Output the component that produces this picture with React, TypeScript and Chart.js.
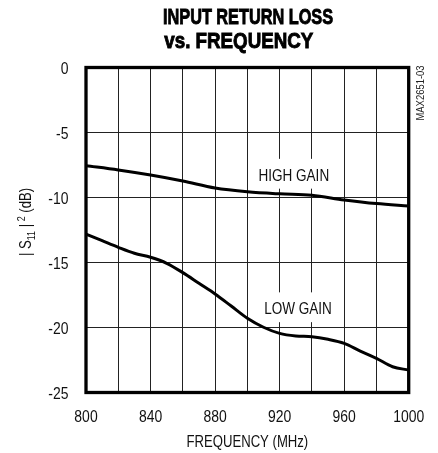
import React, { useEffect, useRef } from "react";
import { Chart, registerables } from "chart.js";

Chart.register(...registerables);

const FONT = "'Liberation Sans', Arial, sans-serif";
const NARROW = 0.82;

const titleLines = ["INPUT RETURN LOSS", "vs. FREQUENCY"];
const xAxisTitle = "FREQUENCY (MHz)";
const figureId = "MAX2651-03";

const xTickLabels = [800, 840, 880, 920, 960, 1000];
const yTickLabels = [0, -5, -10, -15, -20, -25];

const highGainFreq = [800, 820, 840, 860, 880, 900, 920, 940, 960, 980, 1000];
const highGainDb = [-7.55, -7.88, -8.27, -8.73, -9.27, -9.56, -9.72, -9.83, -10.19, -10.47, -10.65];

const lowGainFreq = [800, 810, 820, 830, 840, 850, 860, 870, 880, 890, 900, 910, 920, 930, 940, 950, 960, 970, 980, 990, 1000];
const lowGainDb = [-12.81, -13.32, -13.83, -14.29, -14.6, -15.06, -15.78, -16.6, -17.42, -18.35, -19.29, -19.98, -20.45, -20.65, -20.71, -20.91, -21.22, -21.81, -22.37, -23.02, -23.27];

const annotationTexts = ["HIGH GAIN", "LOW GAIN"];
const annotationFreq = [928.8, 931.4];
const annotationDb = [-8.25, -18.52];

function narrowWidth(ctx: CanvasRenderingContext2D, text: string, size: number, weight = "") {
  ctx.save();
  ctx.font = `${weight} ${size}px ${FONT}`;
  const w = ctx.measureText(text).width * NARROW;
  ctx.restore();
  return w;
}

function narrowText(
  ctx: CanvasRenderingContext2D,
  text: string,
  x: number,
  y: number,
  size: number,
  align: CanvasTextAlign,
  rotate = 0,
  color = "#111"
) {
  ctx.save();
  ctx.font = `${size}px ${FONT}`;
  ctx.fillStyle = color;
  ctx.translate(x, y);
  if (rotate) ctx.rotate(rotate);
  ctx.scale(NARROW, 1);
  ctx.textAlign = align;
  ctx.textBaseline = "alphabetic";
  ctx.fillText(text, 0, 0);
  ctx.restore();
}

export default function App() {
  const ref = useRef<HTMLCanvasElement>(null);

  useEffect(() => {
    const canvas = ref.current;
    if (!canvas) return;

    const overlay = {
      id: "overlay",
      beforeDatasetsDraw(chart: any) {
        const ctx = chart.ctx as CanvasRenderingContext2D;
        const xs = chart.scales.x;
        const ys = chart.scales.y;
        const size = 16.5;
        const cap = size * 0.716;
        annotationTexts.forEach((t, i) => {
          const cx = xs.getPixelForValue(annotationFreq[i]);
          const cy = ys.getPixelForValue(annotationDb[i]);
          const w = narrowWidth(ctx, t, size);
          const capTop = cy - cap / 2;
          const capBottom = cy + cap / 2;
          ctx.save();
          ctx.fillStyle = "#fff";
          ctx.fillRect(cx - w / 2 - 4, capTop - 10, w + 8, capBottom - capTop + 18);
          ctx.restore();
          narrowText(ctx, t, cx, capBottom, size, "center");
        });
      },
      afterDraw(chart: any) {
        const ctx = chart.ctx as CanvasRenderingContext2D;
        const a = chart.chartArea;
        const xs = chart.scales.x;
        const ys = chart.scales.y;
        ctx.save();
        // frame
        ctx.strokeStyle = "#000";
        ctx.lineWidth = 3.3;
        ctx.strokeRect(a.left, a.top, a.right - a.left, a.bottom - a.top);
        ctx.restore();

        // tick labels from the scales
        const tickSize = 17;
        const tickCap = tickSize * 0.716;
        xs.ticks.forEach((t: any) => {
          if (!xTickLabels.includes(t.value)) return;
          const px = xs.getPixelForValue(t.value);
          narrowText(ctx, String(t.value), px, 421.7, tickSize, "center");
        });
        ys.ticks.forEach((t: any) => {
          if (!yTickLabels.includes(t.value)) return;
          const py = ys.getPixelForValue(t.value);
          narrowText(ctx, String(t.value), 68.5, py + tickCap / 2 + 0.8, tickSize, "right");
        });

        // title
        const targets = [170, 149];
        const centers = [248, 238.8];
        const baselines = [24, 48.3];
        ctx.save();
        ctx.fillStyle = "#000";
        ctx.strokeStyle = "#000";
        ctx.lineWidth = 0.9;
        ctx.textAlign = "center";
        ctx.textBaseline = "alphabetic";
        ctx.font = `bold 22px ${FONT}`;
        titleLines.forEach((line, i) => {
          const w = ctx.measureText(line).width;
          const sx = targets[i] / w;
          ctx.save();
          ctx.translate(centers[i], baselines[i]);
          ctx.scale(sx, 1);
          ctx.fillText(line, 0, 0);
          ctx.strokeText(line, 0, 0);
          ctx.restore();
        });
        ctx.restore();

        // x axis title
        narrowText(ctx, xAxisTitle, (a.left + a.right) / 2, 447, 16, "center");

        // y axis title |S11|^2 (dB)
        const big = 16;
        const small = 11;
        const parts = [
          { t: "|", s: big, dy: 0 },
          { t: " S", s: big, dy: 0 },
          { t: "11", s: small, dy: 3.5 },
          { t: " |", s: big, dy: 0 },
          { t: " 2", s: small, dy: -6.5 },
          { t: " (dB)", s: big, dy: 0 },
        ];
        const widths = parts.map((p) => narrowWidth(ctx, p.t, p.s));
        const total = widths.reduce((s, w) => s + w, 0);
        ctx.save();
        ctx.translate(31, 222);
        ctx.rotate(-Math.PI / 2);
        let px = -total / 2;
        parts.forEach((p, i) => {
          narrowText(ctx, p.t, px, p.dy, p.s, "left");
          px += widths[i];
        });
        ctx.restore();

        // figure id
        narrowText(ctx, figureId, 423.5, 93, 11.5, "center", -Math.PI / 2, "#222");
      },
    };

    const chart = new Chart(canvas, {
      type: "line",
      data: {
        datasets: [
          {
            label: "HIGH GAIN",
            data: highGainFreq.map((f, i) => ({ x: f, y: highGainDb[i] })),
            borderColor: "#000",
            borderWidth: 3,
            pointRadius: 0,
            fill: false,
            cubicInterpolationMode: "monotone",
          },
          {
            label: "LOW GAIN",
            data: lowGainFreq.map((f, i) => ({ x: f, y: lowGainDb[i] })),
            borderColor: "#000",
            borderWidth: 3,
            pointRadius: 0,
            fill: false,
            cubicInterpolationMode: "monotone",
          },
        ],
      },
      options: {
        responsive: false,
        animation: false,
        layout: { padding: { top: 67.5, right: 29.3, left: 0, bottom: 0 } },
        plugins: {
          legend: { display: false },
          title: { display: false },
          tooltip: { enabled: false },
        },
        scales: {
          x: {
            type: "linear",
            min: 800,
            max: 1000,
            border: { display: false },
            grid: { color: "#222", lineWidth: 1, drawTicks: false },
            ticks: { stepSize: 20, autoSkip: false, display: false },
            afterFit: (s: any) => {
              s.height = 60.5;
            },
          },
          y: {
            type: "linear",
            min: -25,
            max: 0,
            border: { display: false },
            grid: { color: "#222", lineWidth: 1, drawTicks: false },
            ticks: { stepSize: 5, display: false },
            afterFit: (s: any) => {
              s.width = 86;
            },
          },
        },
      },
      plugins: [overlay],
    } as any);

    return () => chart.destroy();
  }, []);

  return (
    <div style={{ position: "fixed", left: 0, top: 0, width: 438, height: 453, background: "#fff" }}>
      <canvas ref={ref} width={438} height={453} style={{ display: "block" }} />
    </div>
  );
}
